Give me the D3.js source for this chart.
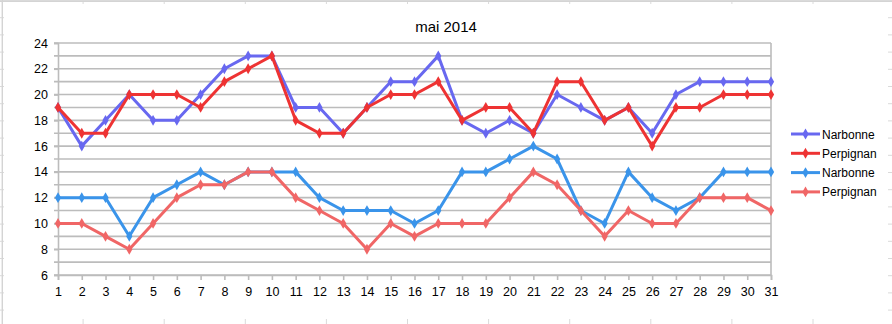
<!DOCTYPE html>
<html>
<head>
<meta charset="utf-8">
<script src="https://cdn.jsdelivr.net/npm/d3@7"></script>
<style>
  html, body { margin: 0; padding: 0; background: #fff; }
  svg { display: block; font-family: "Liberation Sans", Arial, sans-serif; }
</style>
</head>
<body>
<svg id="chart" width="892" height="324"></svg>
<script>
// Daily temperatures for May 2014
const days = d3.range(1, 32);
const narbonneMax = [19,16,18,20,18,18,20,22,23,23,19,19,17,19,21,21,23,18,17,18,17,20,19,18,19,17,20,21,21,21,21];
const perpignanMax = [19,17,17,20,20,20,19,21,22,23,18,17,17,19,20,20,21,18,19,19,17,21,21,18,19,16,19,19,20,20,20];
const narbonneMin = [12,12,12,9,12,13,14,13,14,14,14,12,11,11,11,10,11,14,14,15,16,15,11,10,14,12,11,12,14,14,14];
const perpignanMin = [10,10,9,8,10,12,13,13,14,14,12,11,10,8,10,9,10,10,10,12,14,13,11,9,11,10,10,12,12,12,11];
const yTicks = [6, 8, 10, 12, 14, 16, 18, 20, 22, 24];
const seriesNames = ["Narbonne", "Perpignan", "Narbonne", "Perpignan"];
const seriesColors = ["#6868f0", "#ee3333", "#3a94ea", "#f06666"];
const chartTitle = "mai 2014";

const series = [narbonneMax, perpignanMax, narbonneMin, perpignanMin].map((vals, i) => ({
  name: seriesNames[i], color: seriesColors[i],
  points: vals.map((v, j) => ({ day: days[j], value: v }))
}));

const svg = d3.select("#chart");
const W = 892, H = 324;

// Sheet cells behind the chart object
const sheet = svg.append("g").attr("stroke", "#dadada").attr("stroke-width", 1);
d3.range(2, W, 81.1).forEach(x => sheet.append("line").attr("x1", x).attr("x2", x).attr("y1", 0).attr("y2", H));
d3.range(0.5, H, 17.2).forEach(y => sheet.append("line").attr("x1", 0).attr("x2", W).attr("y1", y).attr("y2", y));
svg.append("rect").attr("x", 4).attr("y", 4).attr("width", 884).attr("height", 315).attr("fill", "#fff");
svg.append("line").attr("x1", 2.5).attr("x2", 2.5).attr("y1", 0).attr("y2", H).attr("stroke", "#d4d4d4");
svg.append("line").attr("x1", 0).attr("x2", W).attr("y1", 1.5).attr("y2", 1.5).attr("stroke", "#d4d4d4");

const x = d3.scaleLinear().domain([1, 31]).range([58, 771]);
const y = d3.scaleLinear().domain([6, 24]).range([275, 43]);

// Horizontal gridlines at every degree
const grid = svg.append("g");
grid.selectAll("line").data(d3.range(6, 25)).join("line")
  .attr("x1", x(1) - 4).attr("x2", x(31))
  .attr("y1", d => y(d)).attr("y2", d => y(d))
  .attr("stroke", "#bcbcbc").attr("stroke-width", 1.6);

// Right border of the plot area
svg.append("line").attr("x1", x(31)).attr("x2", x(31)).attr("y1", y(24)).attr("y2", y(6))
  .attr("stroke", "#bcbcbc").attr("stroke-width", 1.6);

const labelFont = "Liberation Sans, Arial, sans-serif";

// Y axis
const yAxis = svg.append("g").attr("transform", `translate(${x(1)},0)`)
  .call(d3.axisLeft(y).tickValues(yTicks).tickSize(4).tickPadding(6));
yAxis.select(".domain").attr("stroke", "#bcbcbc").attr("stroke-width", 1.6);
yAxis.selectAll(".tick line").attr("stroke", "#bcbcbc").attr("stroke-width", 1.6);
yAxis.selectAll(".tick text").attr("font-size", 12.5).attr("fill", "#000").attr("font-family", labelFont);

// X axis
const xAxis = svg.append("g").attr("transform", `translate(0,${y(6)})`)
  .call(d3.axisBottom(x).tickValues(days).tickFormat(d3.format("d")).tickSize(5).tickPadding(7));
xAxis.select(".domain").attr("stroke", "#bcbcbc").attr("stroke-width", 1.6);
xAxis.selectAll(".tick line").attr("stroke", "#bcbcbc").attr("stroke-width", 1.6);
xAxis.selectAll(".tick text").attr("font-size", 12.5).attr("fill", "#000").attr("font-family", labelFont);

// Title
svg.append("text").attr("x", 446).attr("y", 32).attr("text-anchor", "middle")
  .attr("font-size", 15).attr("fill", "#000").text(chartTitle);

// Series lines with diamond markers
const line = d3.line().x(d => x(d.day)).y(d => y(d.value));
const diamond = d3.symbol().type(d3.symbolDiamond).size(34);

series.forEach(s => {
  const g = svg.append("g");
  g.append("path").datum(s.points).attr("d", line)
    .attr("fill", "none").attr("stroke", s.color).attr("stroke-width", 3)
    .attr("stroke-linejoin", "round");
  g.selectAll("path.m").data(s.points).join("path").attr("class", "m")
    .attr("d", diamond)
    .attr("transform", d => `translate(${x(d.day)},${y(d.value)})`)
    .attr("fill", s.color);
});

// Legend
const legend = svg.append("g");
series.forEach((s, i) => {
  const ly = 134 + i * 19.3;
  legend.append("line").attr("x1", 791).attr("x2", 820).attr("y1", ly).attr("y2", ly)
    .attr("stroke", s.color).attr("stroke-width", 3);
  legend.append("path").attr("d", diamond).attr("transform", `translate(805.5,${ly})`).attr("fill", s.color);
  legend.append("text").attr("x", 822).attr("y", ly + 4.5).attr("font-size", 12)
    .attr("fill", "#000").text(s.name);
});
</script>
</body>
</html>
